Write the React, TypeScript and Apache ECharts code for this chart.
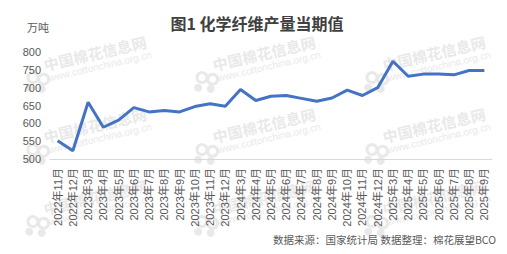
import React, { useEffect, useRef } from "react";
import * as echarts from "echarts";

const categories = [
  "2022年11月", "2022年12月",
  "2023年3月", "2023年4月", "2023年5月", "2023年6月", "2023年7月", "2023年8月", "2023年9月", "2023年10月", "2023年11月", "2023年12月",
  "2024年3月", "2024年4月", "2024年5月", "2024年6月", "2024年7月", "2024年8月", "2024年9月", "2024年10月", "2024年11月", "2024年12月",
  "2025年3月", "2025年4月", "2025年5月", "2025年6月", "2025年7月", "2025年8月", "2025年9月",
];

const output = [
  551, 523,
  659, 589, 609, 644, 632, 636, 632, 647, 655, 648,
  695, 664, 676, 678, 670, 662, 671, 693, 678, 700,
  774, 732, 738, 738, 736, 748, 748,
];

const yTicks = { min: 500, max: 800, interval: 50 };

const FONT = "'Liberation Sans', 'Noto Sans CJK SC', sans-serif";

function watermark(cx: number, cy: number): any {
  const c = "#e9e9e9";
  return {
    type: "group",
    x: cx,
    y: cy,
    rotation: (13 * Math.PI) / 180,
    silent: true,
    z: -1,
    children: [
      { type: "circle", shape: { cx: -66, cy: 10, r: 5 }, style: { fill: "none", stroke: c, lineWidth: 3 } },
      { type: "circle", shape: { cx: -56, cy: 14, r: 5 }, style: { fill: "none", stroke: c, lineWidth: 3 } },
      { type: "circle", shape: { cx: -72, cy: 19, r: 4 }, style: { fill: c } },
      { type: "circle", shape: { cx: -60, cy: 23, r: 4 }, style: { fill: c } },
      {
        type: "text",
        x: 0,
        y: 0,
        style: {
          text: "中国棉花信息网",
          fill: c,
          font: "bold 15px 'Noto Sans CJK SC', serif",
          align: "center",
          verticalAlign: "middle",
        },
      },
      {
        type: "text",
        x: 2,
        y: 14,
        style: {
          text: "www.cottonchina.org.cn",
          fill: c,
          font: "10px 'Liberation Sans', sans-serif",
          align: "center",
          verticalAlign: "middle",
        },
      },
    ],
  };
}

export default function App() {
  const ref = useRef<HTMLDivElement>(null);

  useEffect(() => {
    if (!ref.current) return;
    const chart = echarts.init(ref.current, undefined, { renderer: "svg" });

    const marks: any[] = [];
    const cols = [95, 264, 434];
    const rows = [53, 125, 197];
    rows.forEach((y) => cols.forEach((x) => marks.push(watermark(x, y))));

    chart.setOption({
      animation: false,
      backgroundColor: "#ffffff",
      title: {
        text: "图1 化学纤维产量当期值",
        left: 252,
        top: 10,
        textAlign: "center",
        textStyle: {
          fontSize: 16,
          fontWeight: "bold",
          color: "#404040",
          fontFamily: "'Noto Sans CJK SC', sans-serif",
        },
      },
      graphic: [
        ...marks,
        {
          type: "text",
          left: 27,
          top: 21,
          z: 10,
          style: {
            text: "万吨",
            fill: "#595959",
            font: "11px 'Noto Sans CJK SC', sans-serif",
          },
        },
        {
          type: "text",
          right: 11,
          top: 234,
          z: 10,
          style: {
            text: "数据来源：国家统计局 数据整理：棉花展望BCO",
            fill: "#595959",
            font: "10.5px 'Noto Sans CJK SC', sans-serif",
          },
        },
      ],
      grid: { left: 50, right: 15, top: 52, bottom: 95, containLabel: false },
      xAxis: {
        type: "category",
        data: categories,
        boundaryGap: true,
        axisLine: { show: true, lineStyle: { color: "#d9d9d9", width: 1 } },
        axisTick: { show: false },
        axisLabel: {
          interval: 0,
          rotate: 90,
          margin: 9,
          fontSize: 11,
          color: "#595959",
          fontFamily: FONT,
        },
        splitLine: { show: false },
      },
      yAxis: {
        type: "value",
        min: yTicks.min,
        max: yTicks.max,
        interval: yTicks.interval,
        axisLine: { show: false },
        axisTick: { show: false },
        splitLine: { show: false },
        axisLabel: {
          margin: 9,
          fontSize: 11,
          color: "#595959",
          fontFamily: FONT,
        },
      },
      series: [
        {
          type: "line",
          data: output,
          symbol: "none",
          smooth: false,
          lineStyle: { color: "#4472C4", width: 3 },
          itemStyle: { color: "#4472C4" },
          z: 5,
        },
      ],
    });

    return () => chart.dispose();
  }, []);

  return <div ref={ref} style={{ width: 507, height: 254, margin: -8 }} />;
}
